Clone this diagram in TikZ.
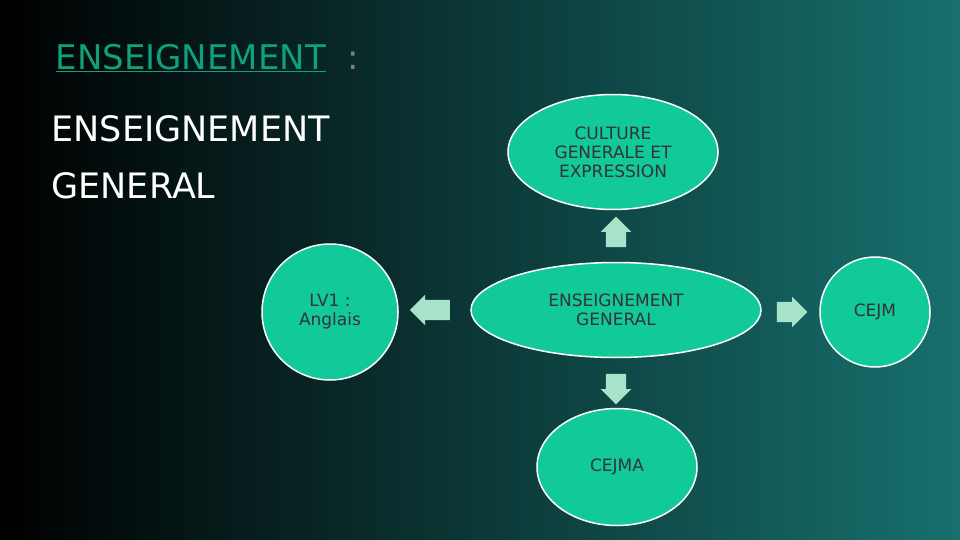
\documentclass[tikz,border=0pt]{standalone}
\usepackage{fontspec}
\setmainfont{DejaVu Sans}
\usetikzlibrary{shapes.arrows, shapes.geometric}
\definecolor{bubble}{HTML}{12C99A}
\definecolor{pale}{HTML}{A6E3C9}
\definecolor{deep}{HTML}{17706E}
\tikzset{
  bub/.style={draw=white, line width=1.5pt, fill=bubble, align=center, text=black!80, font=\fontsize{17}{19}\selectfont, inner sep=2pt},
  blk/.style={single arrow, fill=pale, draw=none, minimum height=36pt, inner sep=10pt, single arrow head extend=5pt, single arrow head indent=0pt}
}
\begin{document}
\begin{tikzpicture}[x=1pt,y=-1pt]
    % background
    \shade[left color=black, right color=deep] (0,0) rectangle (960,540);
    \useasboundingbox (0,0) rectangle (960,540);
    % headings
    \node[anchor=west, text=bubble!80!black, font=\fontsize{34}{36}\selectfont] (title) at (52,58) {\underline{ENSEIGNEMENT}\textcolor{gray}{\ \ :}};
    \node[anchor=north west, text=white, align=left, font=\fontsize{35}{57}\selectfont] (sub) at (48,112) {ENSEIGNEMENT\\GENERAL};
    % bubbles
    \node[bub, ellipse, minimum width=290pt, minimum height=95pt] (mid) at (616,310) {ENSEIGNEMENT\\GENERAL};
    \node[bub, ellipse, minimum width=210pt, minimum height=115pt] (top) at (613,152) {CULTURE\\GENERALE ET\\EXPRESSION};
    \node[bub, ellipse, minimum width=160pt, minimum height=117pt] (bot) at (617,467) {CEJMA};
    \node[bub, circle, minimum size=136pt] (lft) at (330,312) {LV1 :\\Anglais};
    \node[bub, circle, minimum size=110pt] (rgt) at (875,312) {CEJM};
    % arrows
    \node[blk, shape border rotate=90, minimum height=30pt] (up) at (616,237) {};
    \node[blk, shape border rotate=180, minimum height=40pt] (lar) at (435,310) {};
    \node[blk, minimum height=30pt] (rar) at (787,312) {};
    \node[blk, shape border rotate=270, minimum height=28pt] (dn) at (616,384) {};
\end{tikzpicture}
\end{document}
